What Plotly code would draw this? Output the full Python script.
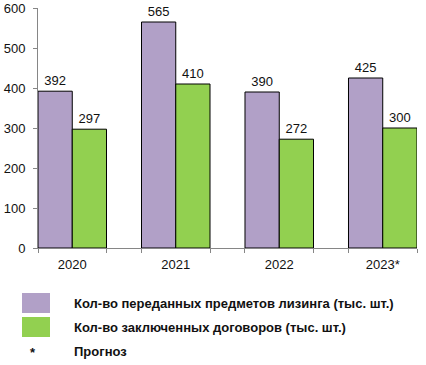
import plotly.graph_objects as go

years = ["2020", "2021", "2022", "2023*"]
leased_items = [392, 565, 390, 425]
contracts = [297, 410, 272, 300]
series_names = ["Кол-во переданных предметов лизинга (тыс. шт.)",
                "Кол-во заключенных договоров (тыс. шт.)"]
footnote = ["*", "Прогноз"]
colors = ["#B1A0C7", "#92D050"]

W, H = 426, 365
L, R, T, B = 38, 9, 8, 117
pw, ph = W - L - R, H - T - B
def px(x): return (x - L) / pw
def py(y): return (H - B - y) / ph

half = 0.331
xs = list(range(len(years)))
edges = []
for i in xs:
    edges += [i - half, i + half]

fig = go.Figure()
for vals, name, col in [(leased_items, series_names[0], colors[0]), (contracts, series_names[1], colors[1])]:
    fig.add_trace(go.Bar(x=xs, y=vals, name=name, marker=dict(color=col, line=dict(color="#000", width=1)),
                         text=[str(v) for v in vals], textposition="outside", cliponaxis=False,
                         textfont=dict(size=13, color="#111", family="Liberation Sans, Arial"),
                         showlegend=False))
fig.add_trace(go.Scatter(x=[0], y=[0], xaxis="x2", mode="markers", marker=dict(opacity=0), showlegend=False, hoverinfo="skip"))

fig.update_layout(
    width=W, height=H, margin=dict(l=L, r=R, t=T, b=B, autoexpand=False),
    plot_bgcolor="white", paper_bgcolor="white",
    barmode="group", bargap=1 - 2 * half, bargroupgap=0,
    font=dict(family="Liberation Sans, Arial", size=12, color="#111"),
    xaxis=dict(range=[-half, len(years) - 1 + half], tickvals=edges, ticktext=[""] * len(edges),
               ticks="outside", ticklen=4, tickcolor="#868686", showline=True, linecolor="#868686",
               showgrid=False, zeroline=False, automargin=False),
    xaxis2=dict(overlaying="x", matches="x", tickvals=xs, ticktext=years, ticks="outside", ticklen=4,
                tickcolor="rgba(0,0,0,0)", showgrid=False, automargin=False,
                zeroline=False, side="bottom", showline=False, tickfont=dict(size=13, color="#111")),
    yaxis=dict(range=[0, 600], dtick=100, ticks="outside", ticklen=4, tickcolor="#868686",
               showline=True, linecolor="#868686", showgrid=False, zeroline=False, automargin=False,
               ticklabelstandoff=5, tickfont=dict(size=13, color="#111")),
)

# manual legend
sw = [(22, 293, 50, 313), (22, 317, 50, 337)]
for (x0, y0, x1, y1), col, name in zip(sw, colors, series_names):
    fig.add_shape(type="rect", xref="paper", yref="paper", x0=px(x0), x1=px(x1), y0=py(y1), y1=py(y0),
                  fillcolor=col, line=dict(width=0))
    fig.add_annotation(xref="paper", yref="paper", x=px(72), y=py((y0 + y1) / 2), xanchor="left", yanchor="middle",
                       text="<b>" + name + "</b>", showarrow=False, font=dict(size=13, color="#111"))
fig.add_annotation(xref="paper", yref="paper", x=px(33), y=py(352), xanchor="center", yanchor="middle",
                   text="<b>" + footnote[0] + "</b>", showarrow=False, font=dict(size=13, color="#111"))
fig.add_annotation(xref="paper", yref="paper", x=px(72), y=py(351), xanchor="left", yanchor="middle",
                   text="<b>" + footnote[1] + "</b>", showarrow=False, font=dict(size=13, color="#111"))

fig.write_html("out.html", config={"displayModeBar": False},
               post_script="document.body.style.margin='0';document.body.style.overflow='hidden';")
